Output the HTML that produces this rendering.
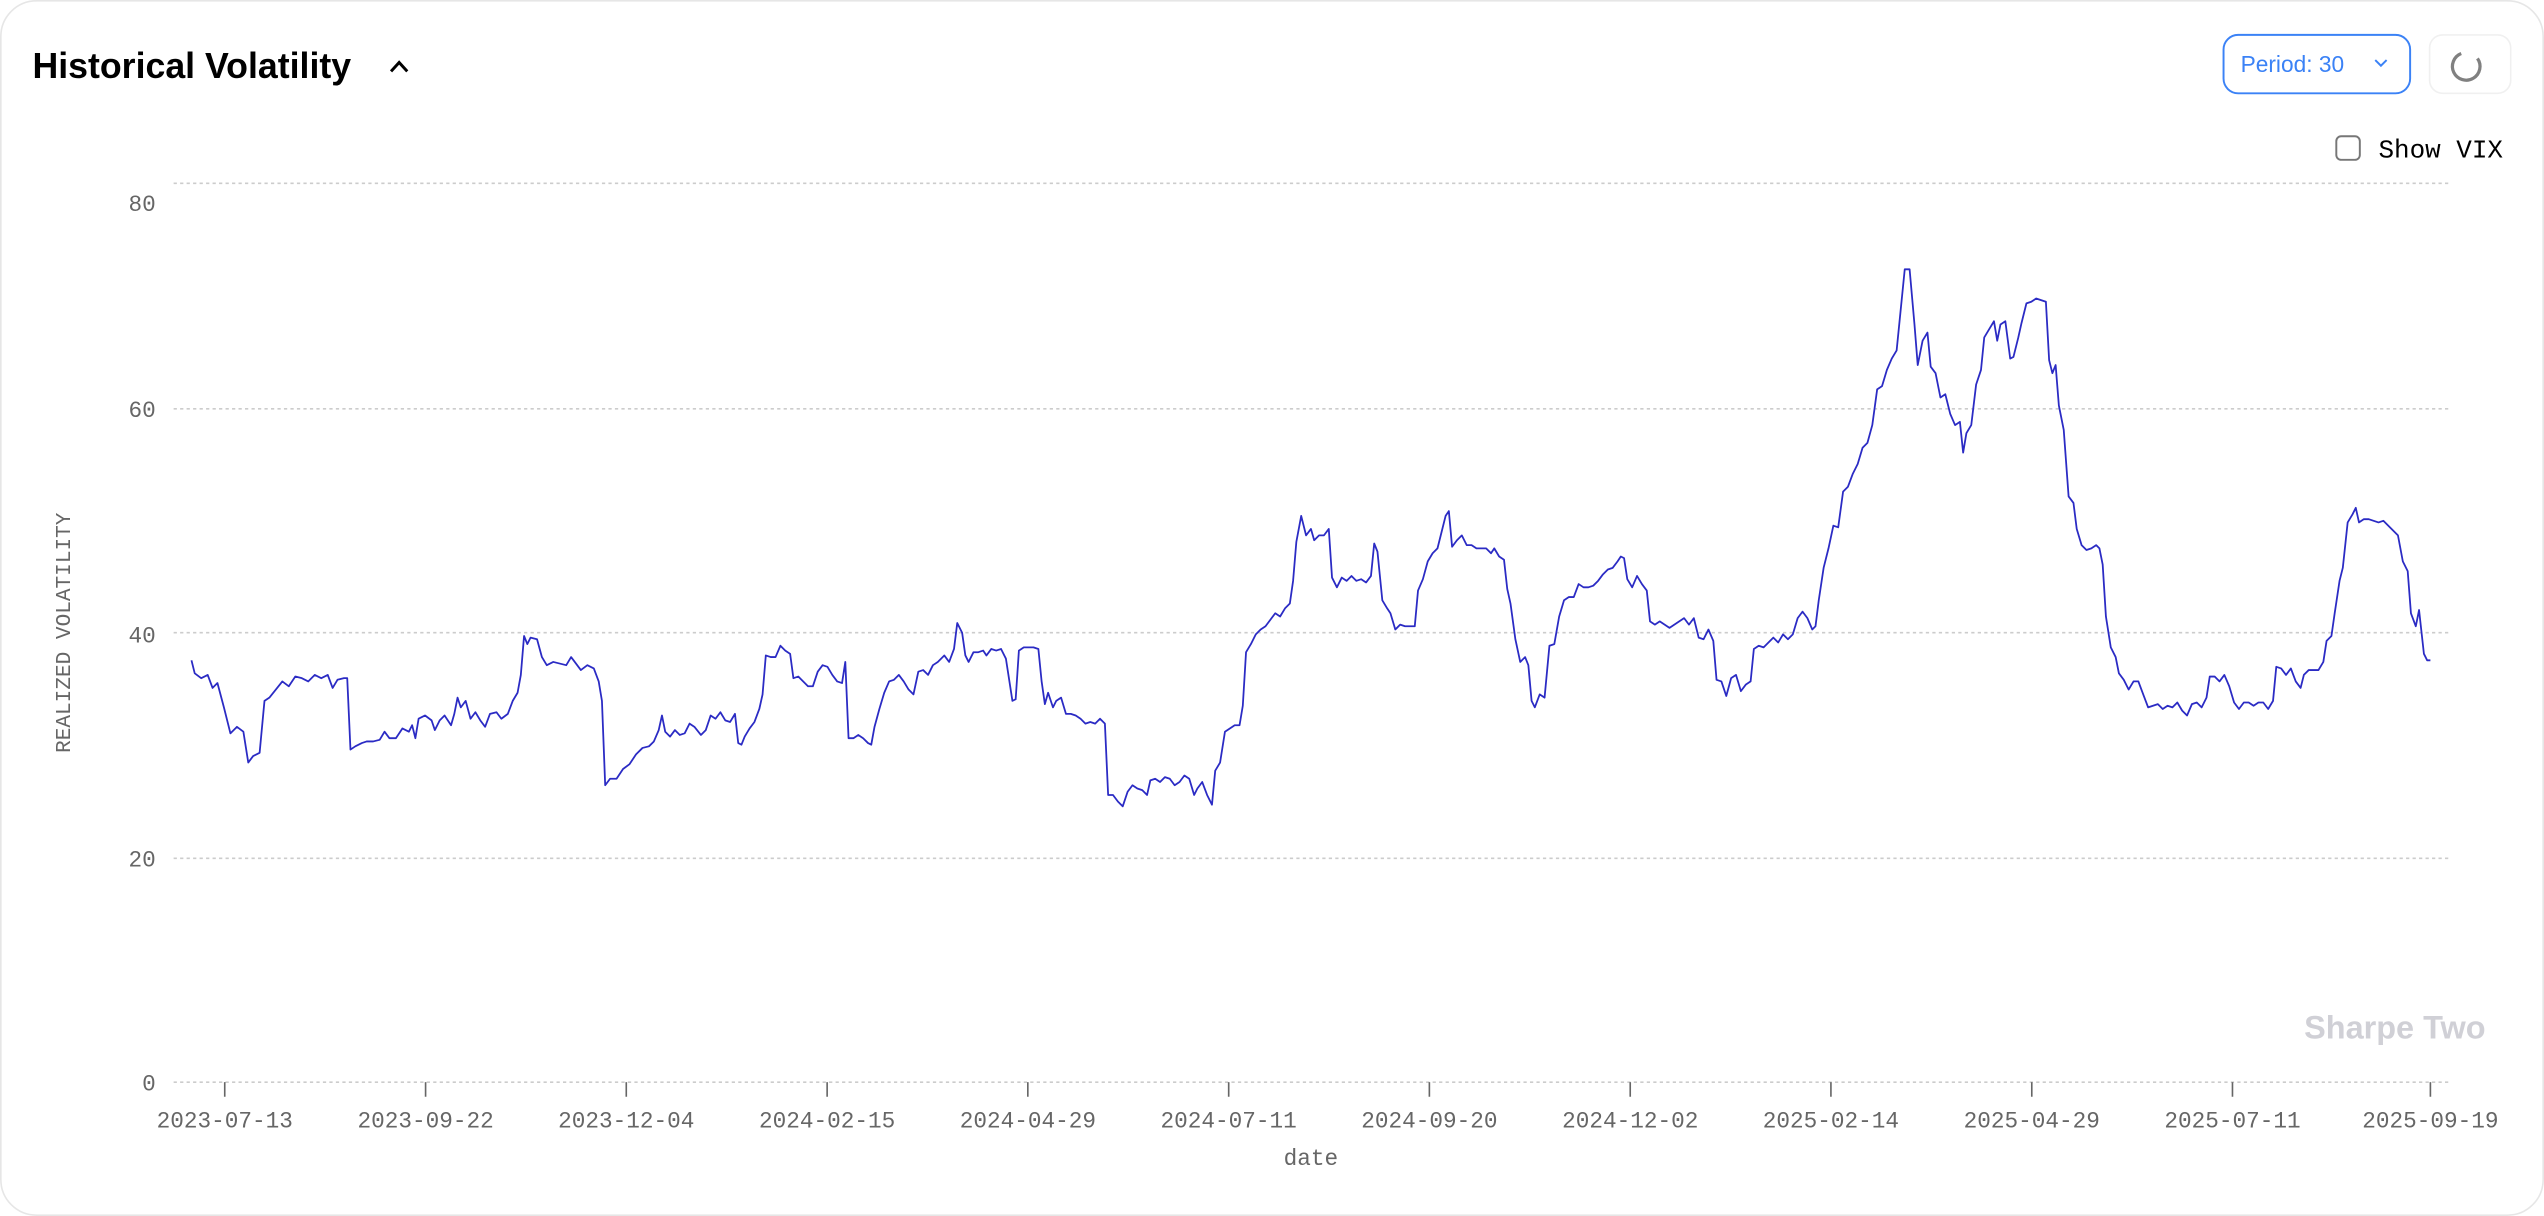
<!DOCTYPE html>
<html><head><meta charset="utf-8"><style>
html,body{margin:0;padding:0;background:#fff;}
svg{display:block;}
</style></head><body>
<svg width="2544" height="1216" viewBox="0 0 1568 749.5" xmlns="http://www.w3.org/2000/svg">
<rect x="0.5" y="0.5" width="1567" height="748.5" rx="22" fill="#fff" stroke="#e6e6e6"/>
<text x="20" y="48" font-family="Liberation Sans, sans-serif" font-weight="bold" font-size="22" fill="#000">Historical Volatility</text>
<path d="M241 44 L246 38.5 L251 44" fill="none" stroke="#000" stroke-width="1.8"/>
<rect x="1370.5" y="21.5" width="115" height="36" rx="9" fill="#fff" stroke="#3b82f6" stroke-width="1.2"/>
<text x="1381" y="44.5" font-family="Liberation Sans, sans-serif" font-size="14" fill="#3b82f6">Period: 30</text>
<path d="M1464 37 L1467.5 40.5 L1471 37" fill="none" stroke="#3b82f6" stroke-width="1.2"/>
<rect x="1497.5" y="21.5" width="50" height="36" rx="8" fill="#fff" stroke="#f0f0f0"/>
<path d="M1517 33 A8.5 8.5 0 1 0 1527 36" fill="none" stroke="#808080" stroke-width="2"/>
<rect x="1440" y="84" width="14.5" height="14.5" rx="3" fill="#fff" stroke="#777" stroke-width="1.2"/>
<text x="1466" y="97" font-family="Liberation Mono, monospace" font-size="16" fill="#000">Show VIX</text>
<g stroke="#ccc" stroke-dasharray="2,2" stroke-width="1">
<line x1="107" y1="113" x2="1510" y2="113"/>
<line x1="107" y1="252" x2="1510" y2="252"/>
<line x1="107" y1="390" x2="1510" y2="390"/>
<line x1="107" y1="529" x2="1510" y2="529"/>
<line x1="107" y1="667" x2="1510" y2="667"/>
</g>
<g font-family="Liberation Mono, monospace" font-size="14" fill="#666" text-anchor="end">
<text x="96" y="130">80</text><text x="96" y="257">60</text><text x="96" y="396">40</text><text x="96" y="534">20</text><text x="96" y="672">0</text>
</g>
<text transform="translate(43,390) rotate(-90)" font-family="Liberation Mono, monospace" font-size="13" fill="#666" text-anchor="middle">REALIZED VOLATILITY</text>
<g stroke="#666" stroke-width="1">
<line x1="138.5" y1="667" x2="138.5" y2="676"/><line x1="262.3" y1="667" x2="262.3" y2="676"/><line x1="386" y1="667" x2="386" y2="676"/><line x1="509.8" y1="667" x2="509.8" y2="676"/><line x1="633.5" y1="667" x2="633.5" y2="676"/><line x1="757.3" y1="667" x2="757.3" y2="676"/><line x1="881" y1="667" x2="881" y2="676"/><line x1="1004.8" y1="667" x2="1004.8" y2="676"/><line x1="1128.5" y1="667" x2="1128.5" y2="676"/><line x1="1252.3" y1="667" x2="1252.3" y2="676"/><line x1="1376" y1="667" x2="1376" y2="676"/><line x1="1498" y1="667" x2="1498" y2="676"/>
</g>
<g font-family="Liberation Mono, monospace" font-size="14" fill="#666" text-anchor="middle">
<text x="138.5" y="695">2023-07-13</text><text x="262.3" y="695">2023-09-22</text><text x="386" y="695">2023-12-04</text><text x="509.8" y="695">2024-02-15</text><text x="633.5" y="695">2024-04-29</text><text x="757.3" y="695">2024-07-11</text><text x="881" y="695">2024-09-20</text><text x="1004.8" y="695">2024-12-02</text><text x="1128.5" y="695">2025-02-14</text><text x="1252.3" y="695">2025-04-29</text><text x="1376" y="695">2025-07-11</text><text x="1498" y="695">2025-09-19</text>
<text x="808" y="718">date</text>
</g>
<text x="1532" y="640" font-family="Liberation Sans, sans-serif" font-weight="bold" font-size="20" fill="#d0d0d6" text-anchor="end">Sharpe Two</text>
<polyline fill="none" stroke="#2b2bc4" stroke-width="1.1" stroke-linejoin="round" points="118,407 120,415 124,418 128,416 131,424 134,421 138,436 142,452 146,448 150,451 153,470 156,466 160,464 163,432 166,430 170,425 174,420 178,423 182,417 186,418 190,420 194,416 198,418 202,416 205,424 208,419 212,418 214,418 216,462 219,460 223,458 226,457 230,457 234,456 237,451 240,455 244,455 248,449 252,451 254,447 256,455 258,443 262,441 266,444 268,450 271,444 274,441 278,447 280,440 282,430 284,436 287,432 290,443 293,439 296,444 299,448 302,440 306,439 309,443 313,440 316,432 319,427 321,416 323,392 325,397 327,393 331,394 334,405 337,410 341,408 345,409 349,410 352,405 355,409 358,413 362,410 366,412 369,420 371,432 373,484 376,480 380,480 384,474 388,471 392,465 396,461 400,460 403,457 406,450 408,441 410,451 413,454 416,450 419,453 422,452 425,446 428,448 432,453 435,450 438,441 441,443 444,439 447,444 450,445 453,440 455,458 457,459 459,454 462,449 465,445 468,437 470,428 472,404 475,405 478,405 481,398 484,401 487,403 489,418 492,417 495,420 498,423 501,423 504,414 507,410 510,411 513,416 516,420 519,421 521,408 523,455 526,455 529,453 532,455 535,458 537,459 539,448 542,437 545,427 548,420 551,419 554,416 557,420 560,425 563,428 566,414 569,413 572,416 575,410 578,408 582,404 585,408 588,400 590,384 593,390 595,404 597,408 600,402 603,402 606,401 608,404 611,400 614,401 617,400 620,406 622,419 624,432 626,431 628,401 631,399 634,399 637,399 640,400 642,420 644,434 646,427 649,436 651,432 654,430 657,440 660,440 663,441 666,443 669,446 672,445 675,446 678,443 681,446 683,490 686,490 689,494 692,497 695,488 698,484 701,486 704,487 707,490 709,481 712,480 715,482 718,479 721,480 724,484 727,482 730,478 733,480 736,490 738,486 741,482 744,490 747,496 749,475 752,470 755,451 758,449 761,447 764,447 766,435 768,402 771,397 774,391 777,388 780,386 783,382 786,378 789,380 792,375 795,372 797,358 799,334 802,318 805,330 808,326 810,333 813,330 816,330 819,326 821,356 824,362 827,356 830,358 833,355 836,358 839,357 842,359 845,355 847,335 849,340 852,370 855,375 857,378 860,388 863,385 866,386 869,386 872,386 874,364 877,357 880,346 883,341 886,338 888,330 891,318 893,315 895,337 898,333 901,330 904,336 907,336 910,338 913,338 916,338 919,341 921,338 924,343 927,345 929,363 931,372 934,394 937,408 940,405 942,410 944,432 946,436 949,428 952,430 955,398 958,397 961,380 964,370 967,368 970,368 973,360 976,362 979,362 982,361 985,358 988,354 991,351 994,350 997,346 999,343 1001,344 1003,357 1006,362 1009,355 1012,360 1015,364 1017,383 1020,385 1023,383 1026,385 1029,387 1032,385 1035,383 1038,381 1041,385 1044,381 1047,393 1050,394 1053,388 1056,395 1058,419 1061,420 1064,429 1067,418 1070,416 1073,426 1076,422 1079,420 1081,400 1084,398 1087,399 1090,396 1093,393 1096,396 1099,391 1102,394 1105,391 1108,381 1111,377 1114,381 1117,388 1119,386 1121,370 1124,350 1127,338 1130,324 1133,325 1136,303 1139,300 1142,292 1145,286 1148,276 1151,273 1154,262 1157,240 1160,238 1163,228 1166,221 1169,216 1171,196 1174,166 1177,166 1180,200 1182,225 1185,210 1188,205 1190,226 1193,230 1196,245 1199,243 1202,255 1205,262 1208,260 1210,279 1212,267 1215,262 1218,237 1221,228 1223,208 1226,203 1229,198 1231,210 1233,200 1236,198 1239,221 1241,220 1244,208 1246,199 1249,187 1252,186 1255,184 1258,185 1261,186 1263,222 1265,230 1267,225 1269,250 1272,265 1275,306 1278,310 1280,326 1283,336 1286,339 1289,338 1292,336 1294,338 1296,348 1298,380 1301,399 1304,405 1306,415 1309,419 1312,425 1315,420 1318,420 1321,428 1324,436 1327,435 1330,434 1333,437 1336,435 1339,436 1342,433 1345,438 1348,441 1351,434 1354,433 1357,436 1360,430 1362,417 1365,417 1368,420 1371,416 1374,423 1377,433 1380,437 1383,433 1386,433 1389,435 1392,433 1395,433 1398,437 1401,432 1403,411 1406,412 1409,416 1412,412 1415,420 1418,424 1420,416 1423,413 1426,413 1429,413 1432,408 1434,395 1437,392 1439,378 1442,358 1444,350 1447,322 1450,317 1452,313 1454,322 1457,320 1460,320 1463,321 1466,322 1469,321 1472,324 1475,327 1478,330 1481,346 1484,352 1486,378 1489,386 1491,376 1494,403 1496,407 1498,407"/>
</svg>
</body></html>
